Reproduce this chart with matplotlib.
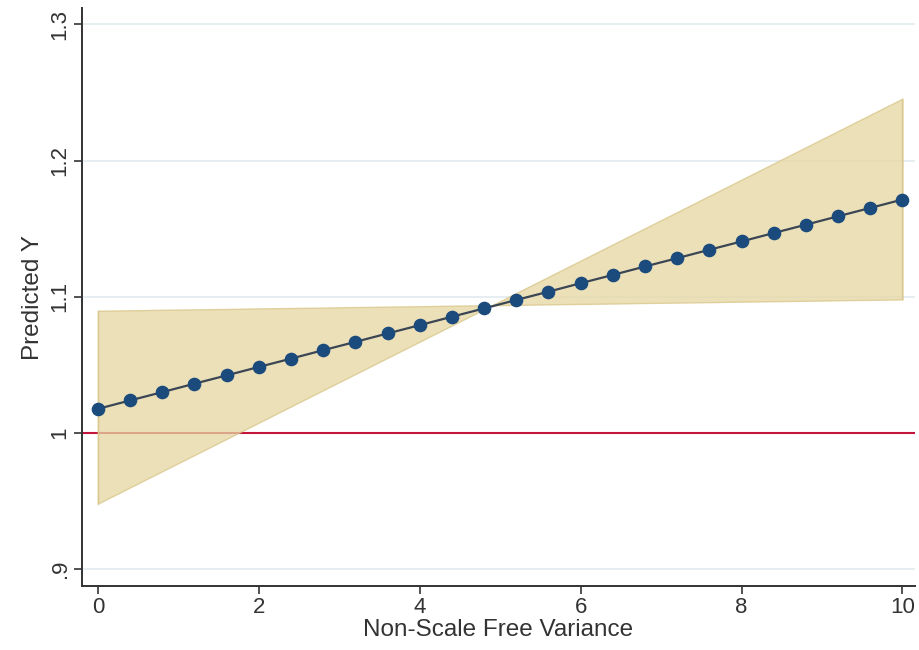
import matplotlib
matplotlib.use('Agg')
import matplotlib.pyplot as plt

plt.rcParams['font.family'] = ['Liberation Sans', 'DejaVu Sans']

# data
x = [0, 0.4, 0.8, 1.2, 1.6, 2.0, 2.4, 2.8, 3.2, 3.6, 4.0, 4.4, 4.8,
     5.2, 5.6, 6.0, 6.4, 6.8, 7.2, 7.6, 8.0, 8.4, 8.8, 9.2, 9.6, 10.0]
pred = [1.0176, 1.0238, 1.0299, 1.0361, 1.0422, 1.0484, 1.0545, 1.0607,
        1.0668, 1.0730, 1.0791, 1.0853, 1.0914, 1.0976, 1.1037, 1.1099,
        1.1160, 1.1222, 1.1283, 1.1345, 1.1406, 1.1468, 1.1529, 1.1591,
        1.1652, 1.1714]
band_a = [1.0897, 1.0900, 1.0904, 1.0907, 1.0910, 1.0914, 1.0917, 1.0920,
          1.0924, 1.0927, 1.0930, 1.0934, 1.0937, 1.0940, 1.0944, 1.0947,
          1.0950, 1.0954, 1.0957, 1.0960, 1.0964, 1.0967, 1.0970, 1.0974,
          1.0977, 1.0980]
band_b = [0.9480, 0.9599, 0.9718, 0.9837, 0.9956, 1.0075, 1.0194, 1.0313,
          1.0432, 1.0551, 1.0670, 1.0789, 1.0908, 1.1027, 1.1146, 1.1265,
          1.1384, 1.1503, 1.1622, 1.1741, 1.1860, 1.1979, 1.2098, 1.2217,
          1.2336, 1.2455]
ref_y = 1.0
yticks = [0.9, 1.0, 1.1, 1.2, 1.3]
ylabels = ['.9', '1', '1.1', '1.2', '1.3']
xticks = [0, 2, 4, 6, 8, 10]

fig = plt.figure(figsize=(9.19, 6.5), dpi=100)
ax = fig.add_axes([0.089, 0.0985, 0.907, 0.889])

for t in yticks:
    ax.axhline(t, color='#e2ebf0', lw=1.2, zorder=0)

ax.axhline(ref_y, color='#c4163c', lw=1.5, zorder=1)

# translucent band, so grid and reference line show through it
ax.fill_between(x, band_a, band_b, facecolor='#e6d6a2', edgecolor='#d8c588',
                lw=1.0, alpha=0.75, zorder=2)
ax.plot([x[0], x[0]], [band_a[0], band_b[0]], color='#d8c588', lw=1.0,
        alpha=0.75, zorder=2)
ax.plot([x[-1], x[-1]], [band_a[-1], band_b[-1]], color='#d8c588', lw=1.0,
        alpha=0.75, zorder=2)

ax.plot(x, pred, color='#3b4654', lw=1.6, marker='o', ms=8.8,
        mfc='#1b4a7c', mec='#1b4a7c', zorder=3)

ax.set_xlim(-0.2, 10.16)
ax.set_ylim(0.8875, 1.312)
ax.set_xticks(xticks)
ax.set_yticks(yticks)
ax.set_yticklabels(ylabels, rotation=90, va='center')
ax.tick_params(axis='both', labelsize=16, length=6, width=1.2, pad=2,
               color='#333333', labelcolor='#333333')
for s in ['top', 'right']:
    ax.spines[s].set_visible(False)
for s in ['left', 'bottom']:
    ax.spines[s].set_linewidth(1.4)
    ax.spines[s].set_color('#333333')

ax.set_xlabel('Non-Scale Free Variance', fontsize=17.5, color='#333333', labelpad=1)
ax.set_ylabel('Predicted Y', fontsize=17.5, color='#333333', labelpad=4)

fig.savefig('out.png', dpi=100)
